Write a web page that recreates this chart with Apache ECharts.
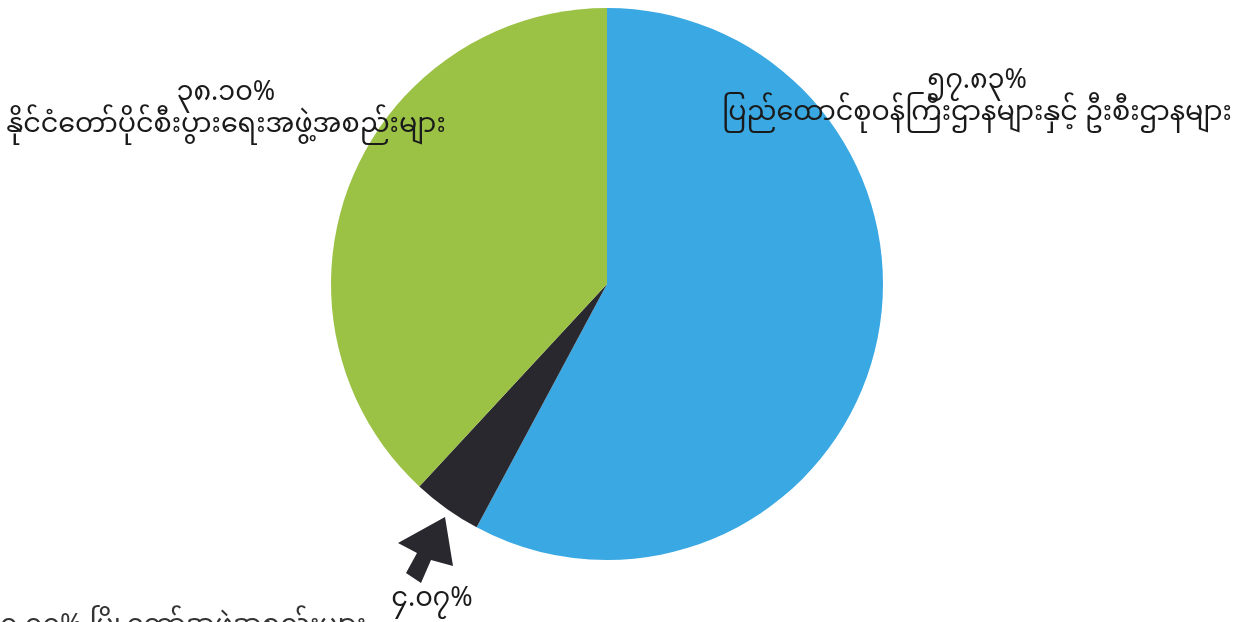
<!DOCTYPE html>
<html>
<head>
<meta charset="utf-8">
<script src="https://cdn.jsdelivr.net/npm/echarts@6/dist/echarts.min.js"></script>
<style>
html,body{margin:0;padding:0;background:#fff;}
#c{width:1239px;height:622px;}
</style>
</head>
<body>
<div id="c"></div>
<script>
const categories = [
  "ပြည်ထောင်စုဝန်ကြီးဌာနများနှင့် ဦးစီးဌာနများ",
  "",
  "နိုင်ငံတော်ပိုင်စီးပွားရေးအဖွဲ့အစည်းများ"
];
const values = [57.83, 4.07, 38.10];
const colors = ["#3aa8e2", "#29282f", "#9bc145"];
const footnote = "၀.၀၀% မြို့တော်အဖွဲ့အစည်းများ";

function myDigits(v) {
  return v.toFixed(2).replace(/[0-9]/g, d => String.fromCharCode(0x1040 + Number(d))) + "%";
}

const labelPos = [
  {x: 977, y: 101, align: 'center'},
  {x: 432, y: 603, align: 'center'},
  {x: 226, y: 113, align: 'center'}
];

const FONT = '"Noto Sans Myanmar", "Padauk", "Myanmar Text", "Noto Sans", sans-serif';

const chart = echarts.init(document.getElementById('c'));
chart.setOption({
  animation: false,
  backgroundColor: '#ffffff',
  series: [{
    type: 'pie',
    center: [607, 284],
    radius: 276,
    startAngle: 90,
    clockwise: true,
    silent: true,
    data: categories.map((n, i) => ({name: n, value: values[i], itemStyle: {color: colors[i]}})),
    label: {
      show: true,
      position: 'outside',
      fontFamily: FONT,
      fontSize: 27,
      color: '#1a1a1a',
      lineHeight: 32,
      overflow: 'none',
      width: 800,
      formatter: p => p.name ? myDigits(p.value) + "\n" + p.name : myDigits(p.value)
    },
    labelLine: {show: false},
    labelLayout: p => Object.assign({verticalAlign: 'middle', moveOverlap: false}, labelPos[p.dataIndex])
  }],
  graphic: [
    {
      type: 'polygon',
      shape: {points: [[445, 517], [453, 566], [431, 560], [421, 583], [406, 573], [417, 553], [398, 543]]},
      style: {fill: '#29282f'}
    },
    {
      type: 'text',
      left: 0,
      top: 617,
      style: {
        text: footnote,
        fontSize: 27,
        fill: '#333',
        fontFamily: FONT
      }
    }
  ]
});
</script>
</body>
</html>
